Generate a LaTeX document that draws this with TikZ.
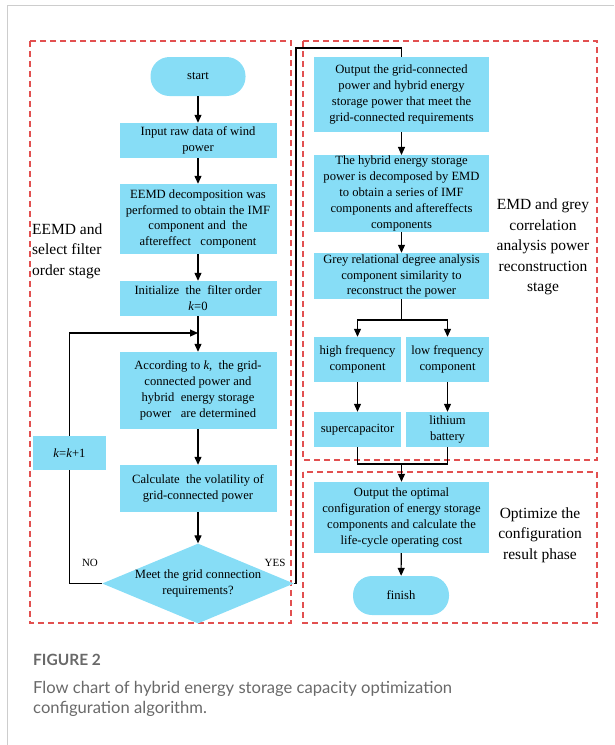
\documentclass[tikz,border=0pt]{standalone}
\usepackage{fontspec}
\setmainfont{Liberation Serif}
\newfontfamily\capfont{Lato}
\usetikzlibrary{arrows.meta,shapes.geometric,calc}
\definecolor{boxblue}{RGB}{135,221,246}
\definecolor{dashred}{RGB}{226,80,80}
\definecolor{framegrey}{RGB}{205,205,205}
\definecolor{capgrey}{RGB}{105,105,105}
\begin{document}
\begin{tikzpicture}[x=1pt,y=-1pt,
  box/.style={draw=none,fill=boxblue,inner sep=1pt,align=center,font=\fontsize{12.6}{15.8}\selectfont},
  capsule/.style={box,rounded corners=19pt},
  decision/.style={draw=none,fill=boxblue,diamond,aspect=2.4,inner sep=0pt,align=center,font=\fontsize{12.6}{15.8}\selectfont},
  stage/.style={draw=dashred,dash pattern=on 6pt off 4pt,line width=1.2pt},
  flow/.style={line width=1.1pt,-{Triangle[length=8pt,width=7pt]}},
  plain/.style={line width=1.1pt},
  stagelabel/.style={font=\fontsize{15.5}{20.5}\selectfont,inner sep=0pt},
  small/.style={font=\fontsize{11}{13}\selectfont,inner sep=0pt}]
\useasboundingbox (0,0) rectangle (614,745);
% outer frame
\draw[framegrey,line width=1pt] (614,5.5) -- (7,5.5) -- (7,745);
% stage frames
\draw[stage] (30,41) rectangle (291,623);
\draw[stage] (303,41) rectangle (597,460);
\draw[stage] (303,472) rectangle (597,623);
% left column
\node[capsule,minimum width=95pt,minimum height=39pt] (start) at (198,76.5) {start};
\node[box,minimum width=157pt,minimum height=35pt] (input) at (198,140.5) {Input raw data of wind\\power};
\node[box,minimum width=157pt,minimum height=70pt] (eemd) at (198,219) {EEMD decomposition was\\performed to obtain the IMF\\component and\ \ the\\aftereffect\ \ \ component};
\node[box,minimum width=157pt,minimum height=35pt] (init) at (198,298.5) {Initialize\ \ the\ \ filter order\\\textit{k}=0};
\node[box,minimum width=157pt,minimum height=77pt] (accord) at (198,390.5) {According to \textit{k},\ \ the grid-\\connected power and\\hybrid\ \ energy storage\\power\ \ \ are determined};
\node[box,minimum width=157pt,minimum height=47pt] (calc) at (198,488.5) {Calculate\ \ the volatility\ of\\grid-connected\ power};
\node[decision,minimum width=174pt,minimum height=73pt] (dec) at (198,583.5) {Meet the grid connection\\requirements?};
\node[box,minimum width=73pt,minimum height=34pt] (kk) at (69.5,453) {\textit{k}=\textit{k}+1};
\coordinate (merge) at (198,333);
\coordinate (up) at (296,48);
% right column
\node[box,minimum width=175pt,minimum height=75pt] (out1) at (401.5,94.5) {Output the grid-connected\\power and hybrid energy\\storage power that meet the\\grid-connected requirements};
\node[box,minimum width=175pt,minimum height=75pt] (hyb) at (401.5,193.5) {The hybrid energy storage\\power is decomposed by EMD\\to obtain a series of IMF\\components and aftereffects\\components};
\node[box,minimum width=175pt,minimum height=46pt] (grey) at (401.5,276) {Grey relational degree analysis\\component similarity to\\reconstruct the power};
\node[box,minimum width=87pt,minimum height=45pt] (high) at (357.5,359.5) {high frequency\\component};
\node[box,minimum width=83pt,minimum height=45pt] (low) at (447.5,359.5) {low frequency\\component};
\node[box,minimum width=87pt,minimum height=35pt] (sup) at (357.5,429.5) {supercapacitor};
\node[box,minimum width=83pt,minimum height=35pt] (lith) at (447.5,429.5) {lithium\\battery};
\node[box,minimum width=175pt,minimum height=71pt] (opt) at (401.5,517.5) {Output the optimal\\configuration of energy storage\\components and calculate the\\life-cycle operating cost};
\node[capsule,minimum width=96pt,minimum height=39pt] (finish) at (401,595.5) {finish};
\coordinate (split) at (401.5,320);
\coordinate (join) at (401.5,464);
% connectors left
\draw[flow] (start) -- (input);
\draw[flow] (input) -- (eemd);
\draw[flow] (eemd) -- (init);
\draw[flow] (init) -- (accord);
\draw[flow] (accord) -- (calc);
\draw[flow] (calc) -- (dec);
\draw[plain] (dec.west) -| (kk.south);
\draw[flow] (kk.north) |- (merge);
\draw[plain] (dec.east) -| (up) -| (out1.north);
% connectors right
\draw[flow] (out1) -- (hyb);
\draw[flow] (hyb) -- (grey);
\draw[plain] (grey.south) -- (split);
\draw[flow] (split) -| (high.north);
\draw[flow] (split) -| (low.north);
\draw[flow] (high) -- (sup);
\draw[flow] (low) -- (lith);
\draw[plain] (sup.south) |- (join);
\draw[plain] (lith.south) |- (join);
\draw[flow] (join) -- (opt.north);
\draw[flow] (opt) -- (finish);
% labels
\node[small] (no) at (90,563) {NO};
\node[small] (yes) at (275,563) {YES};
\node[stagelabel,anchor=west,align=left] (lab1) at (32,251) {EEMD and\\select filter\\order stage};
\node[stagelabel,align=center] (lab2) at (543,247) {EMD and grey\\correlation\\analysis power\\reconstruction\\stage};
\node[stagelabel,align=center] (lab3) at (540,535) {Optimize the\\configuration\\result phase};
% caption
\node[anchor=west,inner sep=0pt,text=capgrey,font=\capfont\bfseries\fontsize{15.5}{18}\selectfont] (fig) at (33,660) {FIGURE 2};
\node[anchor=north west,inner sep=0pt,text=capgrey,align=left,font=\capfont\fontsize{16.6}{20.5}\selectfont] (cap) at (33,681) {Flow chart of hybrid energy storage capacity optimization\\configuration algorithm.};
\end{tikzpicture}
\end{document}
